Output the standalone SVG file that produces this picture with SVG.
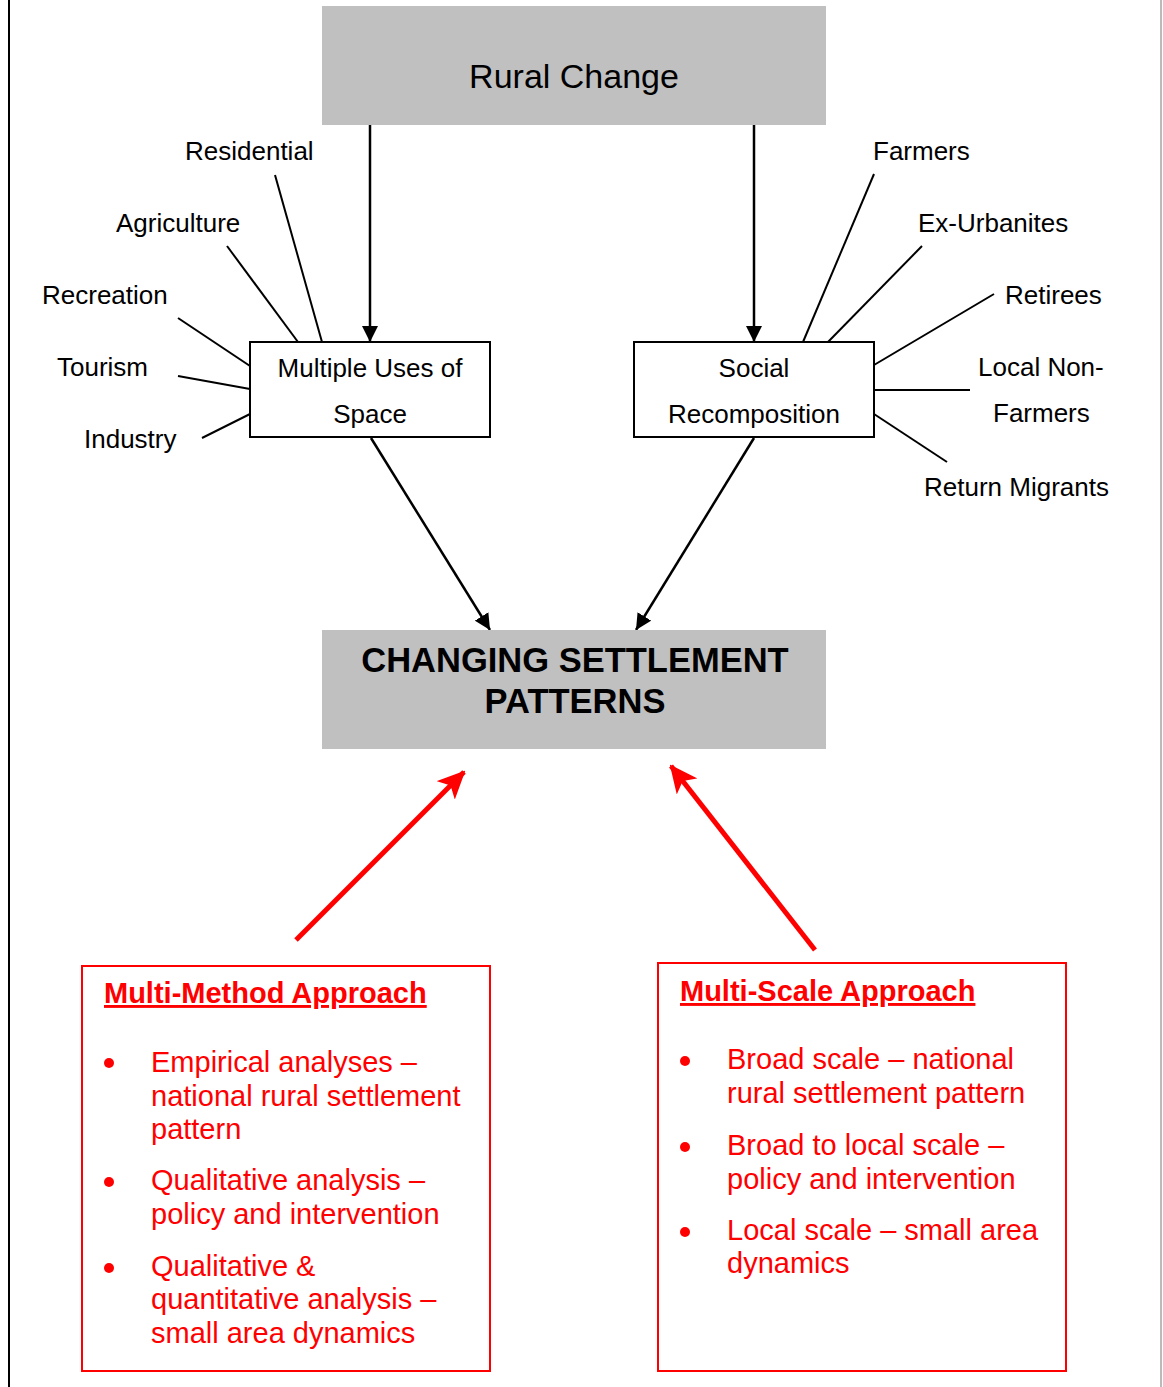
<svg xmlns="http://www.w3.org/2000/svg" width="1163" height="1387" viewBox="0 0 1163 1387">
<style>
text{font-family:"Liberation Sans",Arial,sans-serif;fill:#000}
.lbl{font-size:26px}
.mid{text-anchor:middle}
.grey{fill:#c0c0c0}
.box{fill:#fff;stroke:#000;stroke-width:2}
.spoke{stroke:#000;stroke-width:2;fill:none}
.arr{stroke:#000;stroke-width:2.5;fill:none;marker-end:url(#ah)}
.rarr{stroke:#ff0000;stroke-width:5;fill:none;marker-end:url(#rh)}
.rbox{fill:#fff;stroke:#ff0000;stroke-width:2}
.red{fill:#ff0000;font-size:29px}
.bul{fill:#ff0000}
.rtitle{fill:#ff0000;font-size:29px;font-weight:bold;text-decoration:underline}
</style>
<defs>
<marker id="ah" markerWidth="16" markerHeight="16" refX="16" refY="8" orient="auto" markerUnits="userSpaceOnUse">
<path d="M0,0 L16,8 L0,16 Z" fill="#000"/>
</marker>
<marker id="rh" markerWidth="28" markerHeight="26" refX="26" refY="13" orient="auto" markerUnits="userSpaceOnUse">
<path d="M0,0 L28,13 L0,26 L7,13 Z" fill="#ff0000"/>
</marker>
</defs>
<rect x="0" y="0" width="1163" height="1387" fill="#fff"/>
<line x1="9" y1="0" x2="9" y2="1387" stroke="#000" stroke-width="2"/>
<line x1="1161" y1="0" x2="1161" y2="1387" stroke="#777" stroke-width="1"/>

<g id="connectors">
<line class="arr" x1="370" y1="125" x2="370" y2="342"/>
<line class="arr" x1="754" y1="125" x2="754" y2="342"/>
<line class="arr" x1="371" y1="438" x2="490" y2="630"/>
<line class="arr" x1="754" y1="438" x2="636" y2="630"/>
<line class="rarr" x1="296" y1="940" x2="464" y2="772"/>
<line class="rarr" x1="815" y1="950" x2="671" y2="766"/>
<line class="spoke" x1="275" y1="175" x2="322" y2="342"/>
<line class="spoke" x1="227" y1="246" x2="298" y2="342"/>
<line class="spoke" x1="178" y1="318" x2="250" y2="366"/>
<line class="spoke" x1="178" y1="376" x2="250" y2="389"/>
<line class="spoke" x1="202" y1="438" x2="250" y2="414"/>
<line class="spoke" x1="874" y1="174" x2="803" y2="342"/>
<line class="spoke" x1="922" y1="246" x2="828" y2="342"/>
<line class="spoke" x1="994" y1="294" x2="874" y2="365"/>
<line class="spoke" x1="874" y1="390" x2="970" y2="390"/>
<line class="spoke" x1="874" y1="414" x2="947" y2="462"/>
</g>

<g id="rural-change">
<rect class="grey" x="322" y="6" width="504" height="119"/>
<text class="mid" x="574" y="88" font-size="34">Rural Change</text>
</g>

<g id="multiple-uses">
<rect class="box" x="250" y="342" width="240" height="95"/>
<text class="lbl mid" x="370" y="377">Multiple Uses of</text>
<text class="lbl mid" x="370" y="423">Space</text>
</g>

<g id="social-recomposition">
<rect class="box" x="634" y="342" width="240" height="95"/>
<text class="lbl mid" x="754" y="377">Social</text>
<text class="lbl mid" x="754" y="423">Recomposition</text>
</g>

<g id="label-residential"><text class="lbl" x="185" y="160">Residential</text></g>
<g id="label-agriculture"><text class="lbl" x="116" y="232">Agriculture</text></g>
<g id="label-recreation"><text class="lbl" x="42" y="304">Recreation</text></g>
<g id="label-tourism"><text class="lbl" x="57" y="376">Tourism</text></g>
<g id="label-industry"><text class="lbl" x="84" y="448">Industry</text></g>
<g id="label-farmers"><text class="lbl" x="873" y="160">Farmers</text></g>
<g id="label-ex-urbanites"><text class="lbl" x="918" y="232">Ex-Urbanites</text></g>
<g id="label-retirees"><text class="lbl" x="1005" y="304">Retirees</text></g>
<g id="label-local-non-farmers"><text class="lbl" x="978" y="376">Local Non-</text><text class="lbl" x="993" y="422">Farmers</text></g>
<g id="label-return-migrants"><text class="lbl" x="924" y="496">Return Migrants</text></g>

<g id="changing-settlement-patterns">
<rect class="grey" x="322" y="630" width="504" height="119"/>
<text class="mid" x="575" y="672" font-size="34.5" font-weight="bold">CHANGING SETTLEMENT</text>
<text class="mid" x="575" y="713" font-size="34.5" font-weight="bold">PATTERNS</text>
</g>

<g id="multi-method">
<rect class="rbox" x="82" y="966" width="408" height="405"/>
<text class="rtitle" x="104" y="1003">Multi-Method Approach</text>
<circle class="bul" cx="109" cy="1063" r="5"/>
<text class="red" x="151" y="1072">Empirical analyses –</text>
<text class="red" x="151" y="1106">national rural settlement</text>
<text class="red" x="151" y="1139">pattern</text>
<circle class="bul" cx="109" cy="1182" r="5"/>
<text class="red" x="151" y="1190">Qualitative analysis –</text>
<text class="red" x="151" y="1224">policy and intervention</text>
<circle class="bul" cx="109" cy="1268" r="5"/>
<text class="red" x="151" y="1276">Qualitative &amp;</text>
<text class="red" x="151" y="1309">quantitative analysis –</text>
<text class="red" x="151" y="1343">small area dynamics</text>
</g>

<g id="multi-scale">
<rect class="rbox" x="658" y="963" width="408" height="408"/>
<text class="rtitle" x="680" y="1001">Multi-Scale Approach</text>
<circle class="bul" cx="685" cy="1061" r="5"/>
<text class="red" x="727" y="1069">Broad scale – national</text>
<text class="red" x="727" y="1103">rural settlement pattern</text>
<circle class="bul" cx="685" cy="1147" r="5"/>
<text class="red" x="727" y="1155">Broad to local scale –</text>
<text class="red" x="727" y="1189">policy and intervention</text>
<circle class="bul" cx="685" cy="1232" r="5"/>
<text class="red" x="727" y="1240">Local scale – small area</text>
<text class="red" x="727" y="1273">dynamics</text>
</g>
</svg>
